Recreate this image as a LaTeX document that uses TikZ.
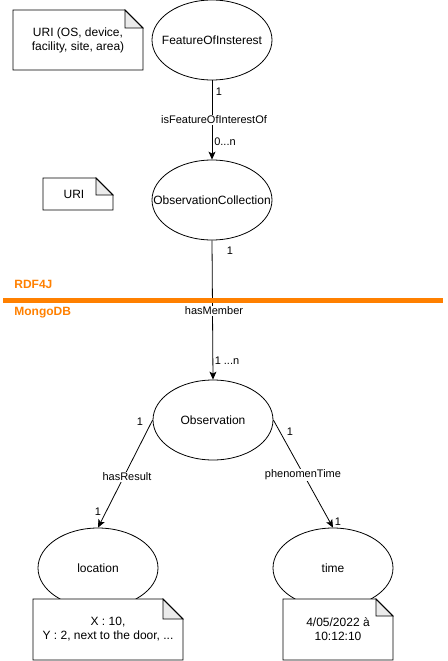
\documentclass[tikz,border=0pt]{standalone}
\usepackage{fontspec}
\setmainfont{Liberation Sans}
\usetikzlibrary{arrows.meta,shapes.geometric}
\definecolor{orng}{HTML}{FF8000}
\definecolor{foldgray}{HTML}{EBEBEB}
\newcommand{\mynote}[5]{% x1 y1 x2 y2 fold
  \fill[white] (#1,#2) -- ({#3-#5},#2) -- (#3,{#2+#5}) -- (#3,#4) -- (#1,#4) -- cycle;
  \draw[fill=foldgray,line join=miter] ({#3-#5},#2) -- ({#3-#5},{#2+#5}) -- (#3,{#2+#5}) -- cycle;
  \draw (#1,#2) -- ({#3-#5},#2) -- (#3,{#2+#5}) -- (#3,#4) -- (#1,#4) -- cycle;
}
\begin{document}
\begin{tikzpicture}[x=1pt,y=-1pt,line width=0.8pt,
  every node/.style={font=\fontsize{12}{14}\selectfont, inner sep=0pt},
  ent/.style={draw, ellipse, minimum width=120pt, minimum height=80pt,
    label={[font=\fontsize{12}{14}\selectfont, inner sep=0pt]center:#1}},
  elab/.style={font=\fontsize{11}{13}\selectfont, fill=white, inner sep=1pt},
  card/.style={font=\fontsize{11}{13}\selectfont},
  arr/.style={-{Stealth[length=8pt,width=7pt,inset=2pt]}},
  sect/.style={text=orng, font=\bfseries\fontsize{12}{14}\selectfont, anchor=west}
  ]
\useasboundingbox (0,0) rectangle (447,661);

% notes (top)
\mynote{13}{10}{143}{70}{18}
\node[align=center] (n1) at (78,40) {URI (OS, device,\\facility, site, area)};
\mynote{43}{178}{113}{210}{17}
\node (n2) at (74,194) {URI};

% entities
\node[ent={FeatureOfInsterest}] (foi) at (212,40) {};
\node[ent={ObservationCollection}] (oc) at (212,200) {};
\node[ent={Observation}] (obs) at (213,420) {};
\node[ent={location}] (loc) at (98,568) {};
\node[ent={time}] (tim) at (333,568) {};

% section separator
\coordinate (sepL) at (3,300);
\coordinate (sepR) at (443,300);

% connectors
\draw[arr] (foi.south) -- (oc.north);
\draw[arr] (oc.south) -- (obs.north);
\draw[line width=5pt, orng] (sepL) -- (sepR);
\draw[arr] (obs.west) -- (loc.north);
\draw[arr] (obs.east) -- (tim.north);

\node[sect] (rdf) at (14,284) {RDF4J};
\node[sect] (mongo) at (14,313) {MongoDB};

% edge labels
\node[elab] (l1) at (214,120) {isFeatureOfInterestOf};
\node[card] (c1) at (219,92) {1};
\node[card] (c2) at (225,142) {0...n};
\node[elab] (l2) at (214,311) {hasMember};
\node[card] (c3) at (230,251) {1};
\node[card] (c4) at (227,361) {1 ...n};
\node[elab] (l3) at (127,477) {hasResult};
\node[card] (c5) at (140,422) {1};
\node[card] (c6) at (98,512) {1};
\node[elab] (l4) at (303,475) {phenomenTime};
\node[card] (c7) at (290,432) {1};
\node[card] (c8) at (338,522) {1};

% bottom notes
\mynote{33}{599}{183}{660}{20}
\node[align=center] (n3) at (108,629) {X : 10,\\Y : 2, next to the door, ...};
\mynote{283}{599}{393}{660}{17}
\node[align=center] (n4) at (338,629) {4/05/2022 à\\10:12:10};
\end{tikzpicture}
\end{document}
